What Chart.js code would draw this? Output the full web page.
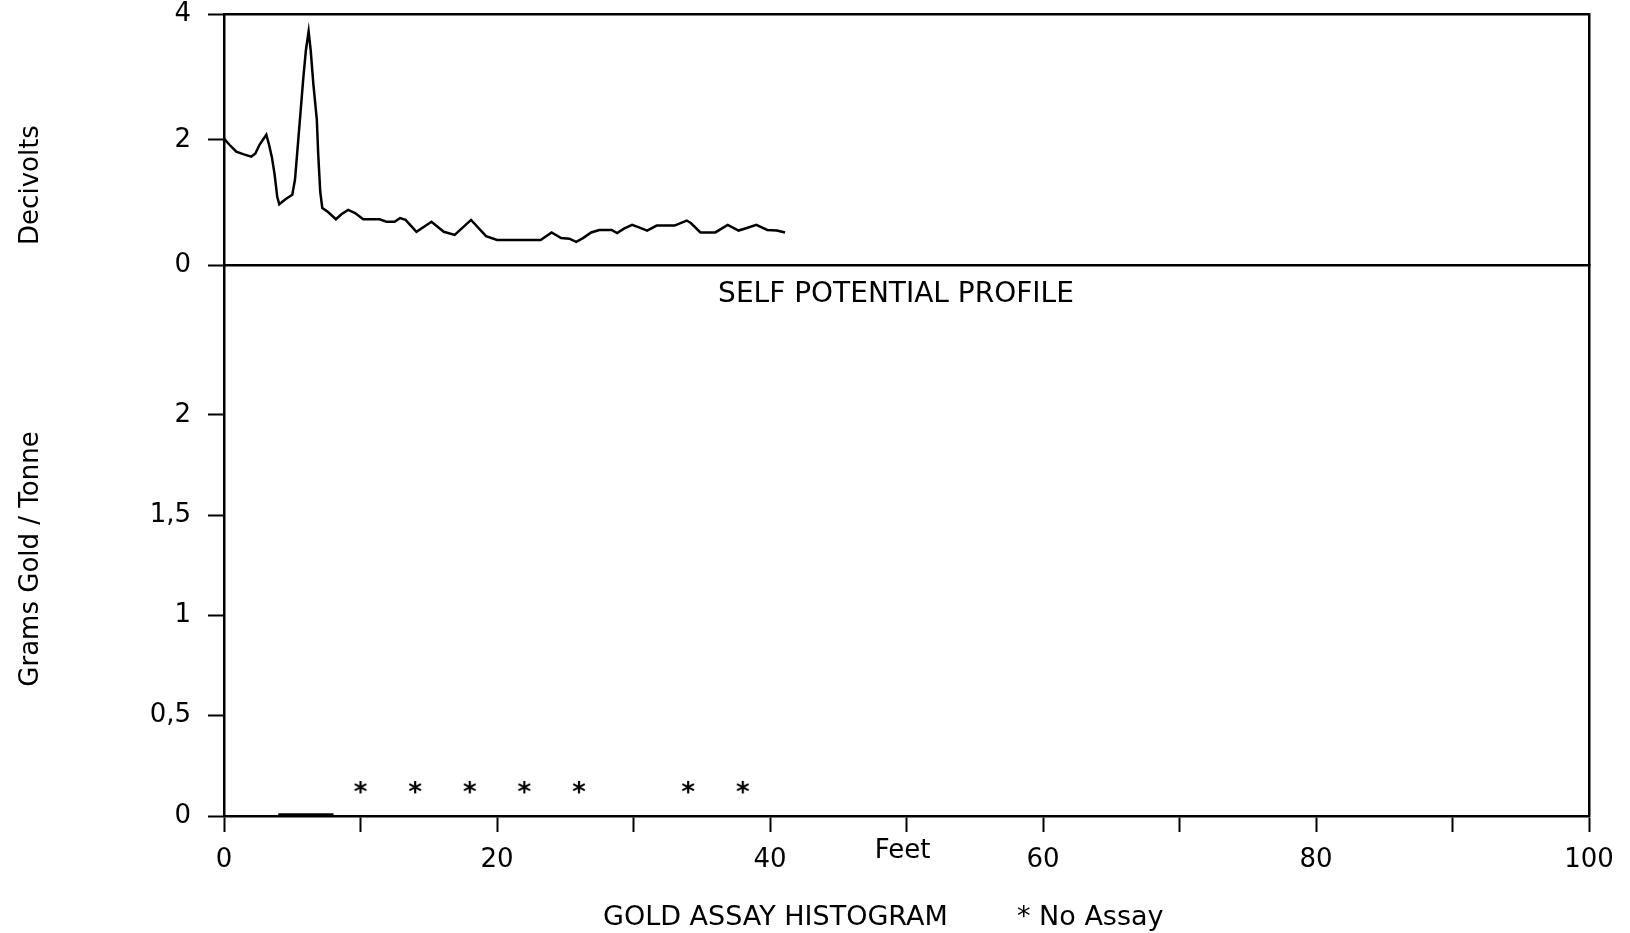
<!DOCTYPE html>
<html>
<head>
<meta charset="utf-8">
<title>Self Potential Profile / Gold Assay Histogram</title>
<script src="https://cdn.jsdelivr.net/npm/chart.js@4/dist/chart.umd.min.js"></script>
<style>
  html, body { margin: 0; padding: 0; background: #fff; }
  #wrap { position: relative; width: 1630px; height: 933px; }
  #wrap canvas { position: absolute; left: 0; top: 0; }
</style>
</head>
<body>
<div id="wrap">
  <canvas id="sp" width="1630" height="933"></canvas>
  <canvas id="gold" width="1630" height="933"></canvas>
</div>
<script>
// Self potential profile: distance along the line (feet) and reading (decivolts)
const spFeet = [
  0, 0.4, 0.9, 1.4, 2.0, 2.3, 2.6, 3.1, 3.3, 3.5,
  3.7, 3.9, 4.05, 4.5, 5.0, 5.2, 5.4, 5.6, 5.8, 6.0,
  6.2, 6.35, 6.55, 6.8, 6.9, 7.05, 7.2, 7.6, 8.2, 8.6,
  9.1, 9.6, 10.2, 11.4, 11.9, 12.5, 12.9, 13.3, 14.1, 15.2,
  16.1, 16.9, 18.1, 19.2, 20.0, 23.2, 24.0, 24.7, 25.3, 25.8,
  26.3, 26.9, 27.5, 28.4, 28.8, 29.3, 29.9, 30.4, 31.0, 31.7,
  33.0, 33.9, 34.2, 34.9, 36.0, 36.9, 37.7, 38.3, 39.0, 39.8,
  40.5, 41.1
];
const spDecivolts = [
  2.02, 1.92, 1.81, 1.77, 1.73, 1.78, 1.92, 2.08, 1.92, 1.73,
  1.46, 1.09, 0.97, 1.05, 1.12, 1.36, 1.89, 2.42, 2.96, 3.43,
  3.73, 3.43, 2.88, 2.32, 1.78, 1.17, 0.91, 0.85, 0.73, 0.81,
  0.88, 0.83, 0.73, 0.73, 0.69, 0.69, 0.75, 0.72, 0.53, 0.69,
  0.53, 0.48, 0.72, 0.46, 0.40, 0.40, 0.52, 0.43, 0.42, 0.37,
  0.43, 0.52, 0.56, 0.56, 0.51, 0.58, 0.64, 0.60, 0.55, 0.63,
  0.63, 0.71, 0.67, 0.52, 0.52, 0.64, 0.55, 0.59, 0.64, 0.56,
  0.55, 0.52
];

// Gold assays: 4-ft sample intervals (centre, feet) and grade; null = no assay
const assayFeet  = [2, 6, 10, 14, 18, 22, 26, 30, 34, 38];
const assayGrams = [0, 0.012, null, null, null, null, null, 0, null, null];
const noAssayLevel = 0.145;

// Tick values
const feetTicks = [0, 10, 20, 30, 40, 50, 60, 70, 80, 90, 100];
const spTicks   = [0, 2, 4];
const goldTicks = [0, 0.5, 1, 1.5, 2];
const feetRange = [0, 100];
const spRange   = [0, 4];
const goldRange = [0, 2.747];

// Page layout (pixels)
const W = 1630, H = 933;
const plotLeft = 224, plotRight = 1589;
const spTop = 14.5, splitY = 265, goldBottom = 816;
const FONT = 'DejaVu Sans';
const INK = '#000';
const AXIS_W = 2.5;

Chart.defaults.font.family = FONT;
Chart.defaults.color = INK;

function fixedTicks(list) {
  return scale => { scale.ticks = list.map(v => ({ value: v })); };
}
function fitTo(size) {
  return scale => {
    if (scale.isHorizontal()) scale.height = size; else scale.width = size;
    scale.paddingTop = scale.paddingBottom = scale.paddingLeft = scale.paddingRight = 0;
  };
}
const commaDecimal = v => String(v).replace('.', ',');

// frame-only axis: just the border line
function frameAxis(position, range) {
  return {
    type: 'linear', position, min: range[0], max: range[1],
    ticks: { display: false },
    grid: { display: false },
    border: { display: true, color: INK, width: AXIS_W },
    afterFit: fitTo(0)
  };
}
function valueAxis(range, ticks, fmt) {
  return {
    type: 'linear', position: 'left', min: range[0], max: range[1],
    afterBuildTicks: fixedTicks(ticks),
    ticks: { color: INK, font: { size: 26 }, padding: 17, callback: fmt },
    grid: { display: true, drawOnChartArea: false, drawTicks: true, tickLength: 16, tickWidth: 2, tickColor: INK },
    border: { display: true, color: INK, width: AXIS_W },
    afterFit: fitTo(plotLeft)
  };
}

// asterisk marker for intervals with no assay
function asteriskMarker(px) {
  const c = document.createElement('canvas');
  c.width = 28; c.height = 28;
  const g = c.getContext('2d');
  g.font = 'bold ' + px + 'px "' + FONT + '"';
  g.fillStyle = INK;
  g.textAlign = 'center';
  g.textBaseline = 'alphabetic';
  const m = g.measureText('*');
  g.fillText('*', 14, 14 + (m.actualBoundingBoxAscent - m.actualBoundingBoxDescent) / 2);
  return c;
}

// captions and axis titles
const captions = {
  id: 'captions',
  afterDraw(chart) {
    const { ctx, scales: { x } } = chart;
    ctx.save();
    ctx.fillStyle = INK;
    ctx.textBaseline = 'middle';
    ctx.font = '28px "' + FONT + '"';
    ctx.textAlign = 'center';
    ctx.fillText('SELF POTENTIAL PROFILE', 896, 295);
    ctx.font = '26px "' + FONT + '"';
    ctx.fillText('Feet', x.getPixelForValue(50) - 4, 851);
    ctx.font = '27px "' + FONT + '"';
    ctx.textAlign = 'left';
    ctx.fillText('GOLD ASSAY HISTOGRAM', 603, 918);
    ctx.fillText('* No Assay', 1017, 918);

    ctx.font = '26px "' + FONT + '"';
    ctx.textAlign = 'center';
    [['Decivolts', 185], ['Grams Gold / Tonne', 559]].forEach(([t, cy]) => {
      ctx.save();
      ctx.translate(31, cy);
      ctx.rotate(-Math.PI / 2);
      ctx.fillText(t, 0, 0);
      ctx.restore();
    });
    ctx.restore();
  }
};

const common = {
  responsive: false,
  animation: false,
  events: [],
  plugins: { legend: { display: false }, tooltip: { enabled: false } }
};

// Upper panel: self potential profile
new Chart(document.getElementById('sp'), {
  type: 'line',
  data: {
    datasets: [{
      label: 'Self potential',
      data: spFeet.map((f, i) => ({ x: f, y: spDecivolts[i] })),
      borderColor: INK,
      borderWidth: 2.5,
      pointRadius: 0,
      tension: 0,
      fill: false
    }]
  },
  options: {
    ...common,
    layout: { padding: { left: 0, top: spTop, right: W - plotRight, bottom: H - splitY } },
    scales: {
      x: frameAxis('bottom', feetRange),
      xTop: frameAxis('top', feetRange),
      y: valueAxis(spRange, spTicks, v => String(v)),
      yRight: frameAxis('right', spRange)
    }
  }
});

// Lower panel: gold assay histogram
new Chart(document.getElementById('gold'), {
  type: 'bar',
  data: {
    datasets: [{
      type: 'bar',
      label: 'Gold assay',
      data: assayFeet.map((f, i) => ({ x: f, y: assayGrams[i] })),
      backgroundColor: INK,
      borderWidth: 0,
      barPercentage: 1,
      categoryPercentage: 1
    }, {
      type: 'scatter',
      label: 'No assay',
      data: assayFeet.filter((f, i) => assayGrams[i] === null).map(f => ({ x: f, y: noAssayLevel })),
      pointStyle: asteriskMarker(26),
      pointRadius: 7
    }]
  },
  options: {
    ...common,
    layout: { padding: { left: 0, top: splitY, right: W - plotRight, bottom: 0 } },
    scales: {
      x: {
        type: 'linear', position: 'bottom', min: feetRange[0], max: feetRange[1],
        offset: false,
        afterBuildTicks: fixedTicks(feetTicks),
        ticks: {
          color: INK, font: { size: 26 }, padding: 13, maxRotation: 0, autoSkip: false,
          callback: v => (v % 20 === 0 ? String(v) : '')
        },
        grid: { display: true, offset: false, drawOnChartArea: false, drawTicks: true, tickLength: 16, tickWidth: 2, tickColor: INK },
        border: { display: true, color: INK, width: AXIS_W },
        afterFit: fitTo(H - goldBottom)
      },
      y: valueAxis(goldRange, goldTicks, commaDecimal),
      yRight: frameAxis('right', goldRange)
    }
  },
  plugins: [captions]
});
</script>
</body>
</html>
